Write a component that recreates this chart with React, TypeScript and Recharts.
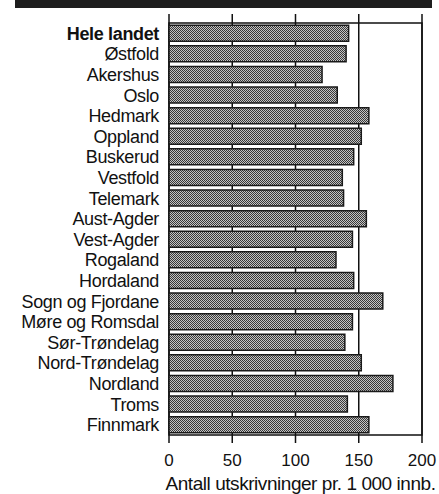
import React from 'react';
import { BarChart, Bar, XAxis, YAxis, CartesianGrid, ReferenceArea } from 'recharts';

const regions = [
  'Hele landet', 'Østfold', 'Akershus', 'Oslo', 'Hedmark', 'Oppland', 'Buskerud',
  'Vestfold', 'Telemark', 'Aust-Agder', 'Vest-Agder', 'Rogaland', 'Hordaland',
  'Sogn og Fjordane', 'Møre og Romsdal', 'Sør-Trøndelag', 'Nord-Trøndelag',
  'Nordland', 'Troms', 'Finnmark',
];
const discharges = [
  142, 140, 121, 133, 158, 152, 146, 137, 138, 156, 145, 132, 146,
  169, 145, 139, 152, 177, 141, 158,
];
const xTicks = [0, 50, 100, 150, 200];
const axisTitle = 'Antall utskrivninger pr. 1 000 innb.';

const data = regions.map((name, i) => ({ name, value: discharges[i] }));

const FONT = '"Liberation Sans", Arial, Helvetica, sans-serif';

const RegionTick = (props: any) => {
  const { x, y, payload } = props;
  const bold = payload.value === 'Hele landet';
  return (
    <text x={x} y={y} dy="0.36em" textAnchor="end" fontSize={18} fontFamily={FONT}
      letterSpacing={-0.35} fontWeight={bold ? 700 : 400} fill="#111">
      {payload.value}
    </text>
  );
};

export default function App() {
  return (
    <div style={{ position: 'absolute', left: 0, top: 0, width: 439, height: 494, background: '#fff', fontFamily: FONT }}>
      <div style={{ position: 'absolute', left: 15, top: 0, width: 417, height: 8, background: '#1e1e1e' }} />
      <BarChart
        width={439}
        height={494}
        data={data}
        layout="vertical"
        margin={{ top: 14, right: 17, bottom: 0, left: 0 }}
        barCategoryGap="11%"
      >
        <defs>
          <pattern id="dither" width="2" height="2" patternUnits="userSpaceOnUse">
            <rect width="2" height="2" fill="#c4c4c4" />
            <rect x="0" y="0" width="1" height="1" fill="#383838" />
            <rect x="1" y="1" width="1" height="1" fill="#383838" />
          </pattern>
        </defs>
        <CartesianGrid horizontal={false} stroke="#111" strokeWidth={1.5} />
        <XAxis
          type="number"
          domain={[0, 200]}
          ticks={xTicks}
          height={51}
          tickSize={0}
          tickMargin={11}
          axisLine={false}
          tick={{ fontSize: 17, fill: '#111', fontFamily: FONT }}
          label={{ value: axisTitle, position: 'insideBottom', offset: 4, dx: 5, fontSize: 19, letterSpacing: -0.45, fill: '#111', fontFamily: FONT }}
        />
        <YAxis
          type="category"
          dataKey="name"
          width={169}
          tickSize={0}
          tickMargin={10}
          axisLine={false}
          interval={0}
          padding={{ top: 9, bottom: 8 }}
          tick={<RegionTick />}
        />
        <Bar dataKey="value" fill="url(#dither)" stroke="#1a1a1a" strokeWidth={1.5} isAnimationActive={false} />
        <ReferenceArea x1={0} x2={200} fill="none" stroke="#111" strokeWidth={1.5} fillOpacity={0} ifOverflow="visible" />
      </BarChart>
    </div>
  );
}
